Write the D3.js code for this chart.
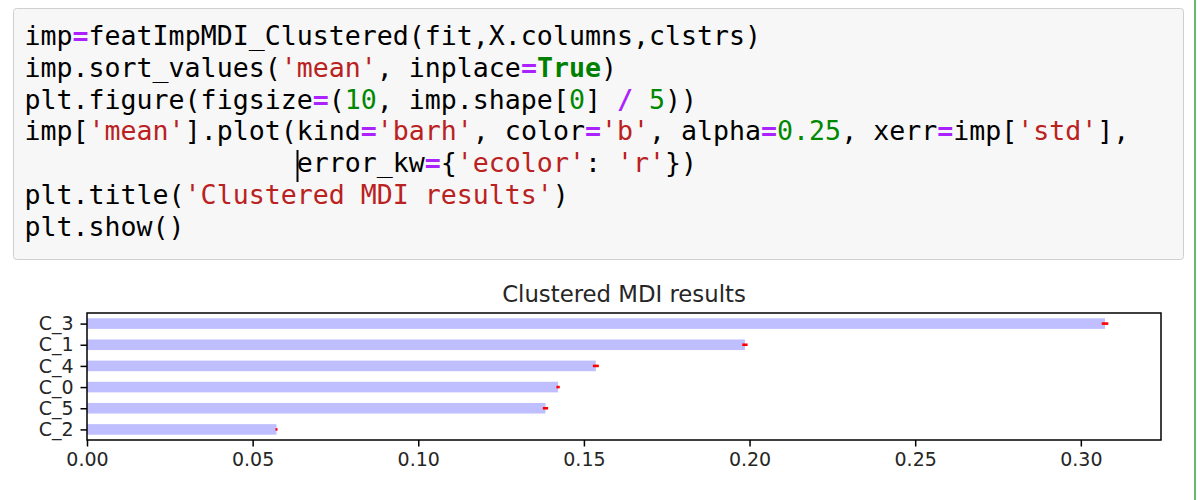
<!DOCTYPE html>
<html>
<head>
<meta charset="utf-8">
<script src="https://cdn.jsdelivr.net/npm/d3@7"></script>
<style>
  html, body { margin: 0; padding: 0; background: #ffffff; }
  svg { display: block; }
  .code text { font-family: "DejaVu Sans Mono", monospace; font-size: 26.6px; white-space: pre; }
  .tick text { font-family: "DejaVu Sans", sans-serif; }
</style>
</head>
<body>
<svg id="chart" width="1200" height="500"></svg>
<script>
// ---- chart data (bottom to top, as matplotlib barh draws them) ----
const categories = ["C_2", "C_5", "C_0", "C_4", "C_1", "C_3"];
const meanValues = [0.0572, 0.1384, 0.1422, 0.1536, 0.1986, 0.3073];
const stdValues  = [0.0003, 0.0008, 0.0005, 0.0009, 0.0008, 0.0010];
const xTickValues = [0.00, 0.05, 0.10, 0.15, 0.20, 0.25, 0.30];
const chartTitle = "Clustered MDI results";

// ---- code cell text: [text, kind] tokens per line ----
const codeLines = [
  [["imp", "n"], ["=", "op"], ["featImpMDI_Clustered(fit,X.columns,clstrs)", "n"]],
  [["imp.sort_values(", "n"], ["'mean'", "s"], [", inplace", "n"], ["=", "op"], ["True", "kw"], [")", "n"]],
  [["plt.figure(figsize", "n"], ["=", "op"], ["(", "n"], ["10", "num"], [", imp.shape[", "n"], ["0", "num"], ["] ", "n"], ["/", "op"], [" ", "n"], ["5", "num"], ["))", "n"]],
  [["imp[", "n"], ["'mean'", "s"], ["].plot(kind", "n"], ["=", "op"], ["'barh'", "s"], [", color", "n"], ["=", "op"], ["'b'", "s"], [", alpha", "n"], ["=", "op"], ["0.25", "num"], [", xerr", "n"], ["=", "op"], ["imp[", "n"], ["'std'", "s"], ["],", "n"]],
  [["                 error_kw", "n"], ["=", "op"], ["{", "n"], ["'ecolor'", "s"], [": ", "n"], ["'r'", "s"], ["})", "n"]],
  [["plt.title(", "n"], ["'Clustered MDI results'", "s"], [")", "n"]],
  [["plt.show()", "n"]]
];

(function () {
const svg = d3.select("#chart");

// ---- notebook cell ----
svg.append("rect")
  .attr("x", 13.5).attr("y", 8.5)
  .attr("width", 1170).attr("height", 251)
  .attr("rx", 3).attr("ry", 3)
  .attr("fill", "#f7f7f7").attr("stroke", "#cfcfcf").attr("stroke-width", 1);

svg.append("line")
  .attr("x1", 1195).attr("x2", 1195).attr("y1", 0).attr("y2", 500)
  .attr("stroke", "#66bb6a").attr("stroke-width", 2);

const styleFor = {
  n:   { fill: "#000000", weight: "normal" },
  op:  { fill: "#aa22ff", weight: "bold" },
  s:   { fill: "#ba2121", weight: "normal" },
  num: { fill: "#008800", weight: "normal" },
  kw:  { fill: "#008000", weight: "bold" }
};

const code = svg.append("g").attr("class", "code");
codeLines.forEach((tokens, i) => {
  const t = code.append("text")
    .attr("x", 24.5)
    .attr("y", 45 + i * 31.8)
    .attr("xml:space", "preserve");
  tokens.forEach(([txt, kind]) => {
    t.append("tspan")
      .attr("fill", styleFor[kind].fill)
      .attr("font-weight", styleFor[kind].weight)
      .text(txt);
  });
});

// text cursor
svg.append("line")
  .attr("x1", 297.5).attr("x2", 297.5).attr("y1", 150).attr("y2", 182)
  .attr("stroke", "#000").attr("stroke-width", 2);

// ---- chart ----
const pLeft = 87, pRight = 1161, pTop = 313, pBottom = 440;

const x = d3.scaleLinear().domain([0, 0.3242]).range([pLeft, pRight]);
const y = d3.scaleLinear().domain([-0.5, categories.length - 0.5]).range([pBottom, pTop]);
const barH = y(0) - y(0.5);

const plot = svg.append("g");

// bars
plot.selectAll("rect.bar")
  .data(meanValues)
  .enter().append("rect")
  .attr("class", "bar")
  .attr("x", x(0))
  .attr("y", (d, i) => y(i) - barH / 2)
  .attr("width", d => x(d) - x(0))
  .attr("height", barH)
  .attr("fill", "rgba(0,0,255,0.25)");

// error bars
plot.selectAll("line.err")
  .data(meanValues)
  .enter().append("line")
  .attr("class", "err")
  .attr("x1", (d, i) => x(d - stdValues[i]))
  .attr("x2", (d, i) => x(d + stdValues[i]))
  .attr("y1", (d, i) => y(i))
  .attr("y2", (d, i) => y(i))
  .attr("stroke", "#ff0000")
  .attr("stroke-width", 2.6);

// x axis
const xAxis = d3.axisBottom(x)
  .tickValues(xTickValues)
  .tickFormat(d3.format(".2f"))
  .tickSize(6.5)
  .tickPadding(6);
const gx = svg.append("g").attr("transform", `translate(0,${pBottom})`).call(xAxis);
gx.select(".domain").remove();
gx.selectAll(".tick line").attr("stroke", "#000").attr("stroke-width", 1.5);
gx.selectAll(".tick text").attr("font-size", 19).attr("fill", "#262626");

// y axis
const yAxis = d3.axisLeft(y)
  .tickValues(d3.range(categories.length))
  .tickFormat(i => categories[i])
  .tickSize(6.5)
  .tickPadding(7);
const gy = svg.append("g").attr("transform", `translate(${pLeft},0)`).call(yAxis);
gy.select(".domain").remove();
gy.selectAll(".tick line").attr("stroke", "#000").attr("stroke-width", 1.5);
gy.selectAll(".tick text").attr("font-size", 19).attr("fill", "#262626");

// frame (spines)
svg.append("rect")
  .attr("x", pLeft).attr("y", pTop)
  .attr("width", pRight - pLeft).attr("height", pBottom - pTop)
  .attr("fill", "none").attr("stroke", "#000").attr("stroke-width", 1.5);

// title
svg.append("text")
  .attr("x", (pLeft + pRight) / 2)
  .attr("y", 302)
  .attr("text-anchor", "middle")
  .attr("font-family", "DejaVu Sans, sans-serif")
  .attr("font-size", 22.8)
  .attr("fill", "#262626")
  .text(chartTitle);
})();
</script>
</body>
</html>
